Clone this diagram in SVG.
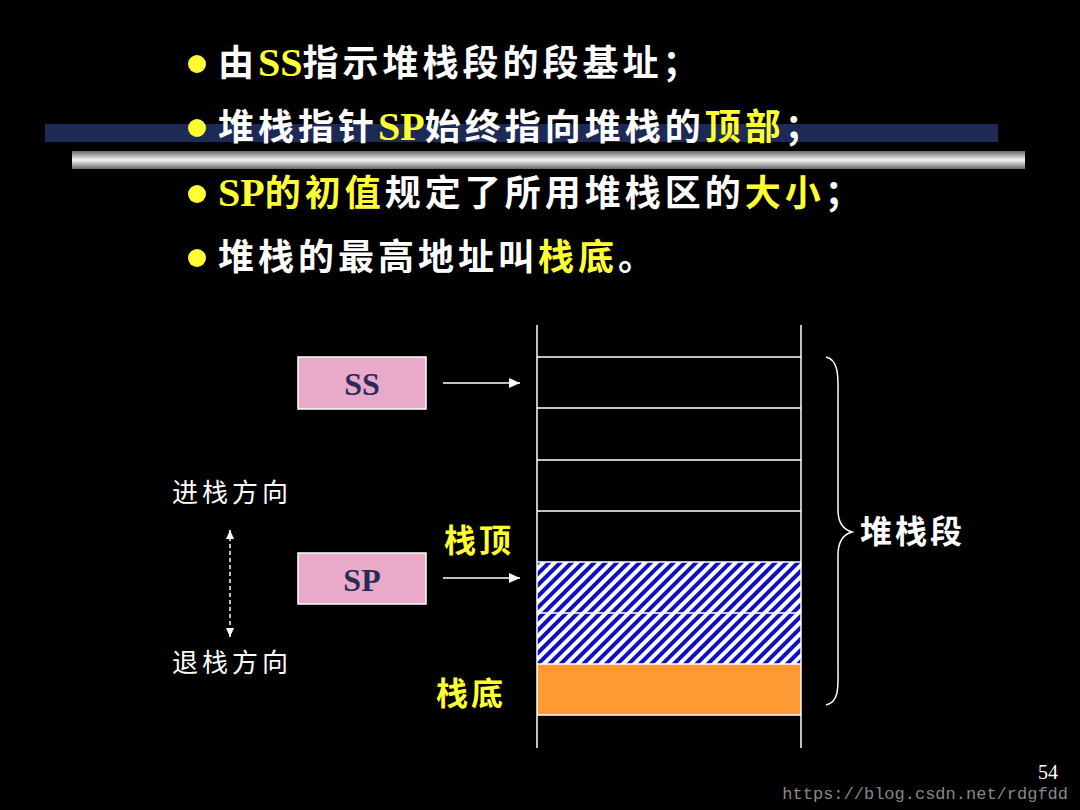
<svg xmlns="http://www.w3.org/2000/svg" width="1080" height="810" viewBox="0 0 1080 810">
<defs>
<linearGradient id="g" x1="0" y1="0" x2="0" y2="1"><stop offset="0" stop-color="#6a6a6a"/><stop offset="0.5" stop-color="#f4f4f4"/><stop offset="1" stop-color="#6a6a6a"/></linearGradient>
<pattern id="h" width="8" height="8" patternUnits="userSpaceOnUse" patternTransform="rotate(45)"><rect width="8" height="8" fill="#fff"/><rect width="4" height="8" fill="#1010c0"/></pattern>
<marker id="a" markerWidth="12" markerHeight="12" refX="11" refY="6" orient="auto" markerUnits="userSpaceOnUse"><path d="M0,1 L11,6 L0,11 Z" fill="#fff"/></marker>
<marker id="b" markerWidth="10" markerHeight="10" refX="9" refY="5" orient="auto-start-reverse" markerUnits="userSpaceOnUse"><path d="M0,1 L9,5 L0,9 Z" fill="#fff"/></marker>
<style>
.t{font-family:"Noto Sans CJK SC","Noto Sans",sans-serif;font-weight:bold;font-size:36px;fill:#fff;letter-spacing:4px}
.y{fill:#ffff33}
.s{font-family:"Liberation Serif","Noto Sans CJK SC",serif;font-weight:bold;font-size:40px;letter-spacing:0}
.l{stroke:#fff;stroke-width:1.5;fill:none}
.bx{fill:#e8aac8;stroke:#fff;stroke-width:1.5}
.bt{font-family:"Liberation Serif",serif;font-weight:bold;font-size:32px;fill:#2a2a5a;text-anchor:middle}
.c{font-family:"Noto Sans CJK SC",sans-serif;font-size:26px;fill:#fff;letter-spacing:4px}
</style>
</defs>
<rect width="1080" height="810" fill="#000"/>
<rect x="45" y="124" width="953" height="18" fill="#1c2a55"/>
<rect x="72" y="151" width="953" height="18" fill="url(#g)"/>
<g class="t">
<circle cx="197" cy="64" r="9" fill="#ffff33"/>
<text x="218" y="76">由<tspan class="y s">SS</tspan>指示堆栈段的段基址；</text>
<circle cx="197" cy="128" r="9" fill="#ffff33"/>
<text x="218" y="140">堆栈指针<tspan class="y s">SP</tspan>始终指向堆栈的<tspan class="y">顶部</tspan>；</text>
<circle cx="197" cy="194" r="9" fill="#ffff33"/>
<text x="218" y="206"><tspan class="y s">SP</tspan><tspan class="y">的初值</tspan>规定了所用堆栈区的<tspan class="y">大小</tspan>；</text>
<circle cx="197" cy="258" r="9" fill="#ffff33"/>
<text x="218" y="270">堆栈的最高地址叫<tspan class="y">栈底</tspan>。</text>
</g>
<g id="stack">
<rect x="537" y="562" width="264" height="102" fill="url(#h)"/>
<rect x="537" y="664" width="264" height="51" fill="#ff9933"/>
<path class="l" d="M537,325V748M801,325V748M537,357H801M537,408H801M537,460H801M537,511H801M537,562H801M537,613H801M537,664H801M537,715H801"/>
</g>
<g id="ss"><rect class="bx" x="298" y="357" width="128" height="52"/><text class="bt" x="362" y="395">SS</text></g>
<g id="sp"><rect class="bx" x="298" y="553" width="128" height="51"/><text class="bt" x="362" y="591">SP</text></g>
<g id="connectors">
<line class="l" x1="443" y1="383" x2="520" y2="383" marker-end="url(#a)"/>
<line class="l" x1="443" y1="578" x2="520" y2="578" marker-end="url(#a)"/>
<line class="l" x1="230" y1="530" x2="230" y2="637" stroke-dasharray="4,3" marker-start="url(#b)" marker-end="url(#b)"/>
<path class="l" stroke-width="2.5" d="M826,357 C840,360 838,380 838,400 V510 C838,525 845,530 852,532 C845,534 838,540 838,555 V665 C838,685 840,702 826,705"/>
</g>
<text class="c" x="172" y="502">进栈方向</text>
<text class="c" x="172" y="672">退栈方向</text>
<text class="t y" x="444" y="552" style="font-size:32px;letter-spacing:3px">栈顶</text>
<text class="t y" x="436" y="705" style="font-size:32px;letter-spacing:3px">栈底</text>
<text class="t" x="860" y="543" style="font-size:32px;letter-spacing:3px">堆栈段</text>
<text x="1058" y="779" font-family="Liberation Serif,serif" font-size="20" fill="#fff" text-anchor="end">54</text>
<text x="1068" y="799" font-family="Liberation Mono,monospace" font-size="17" fill="#888" text-anchor="end">https://blog.csdn.net/rdgfdd</text>
</svg>
